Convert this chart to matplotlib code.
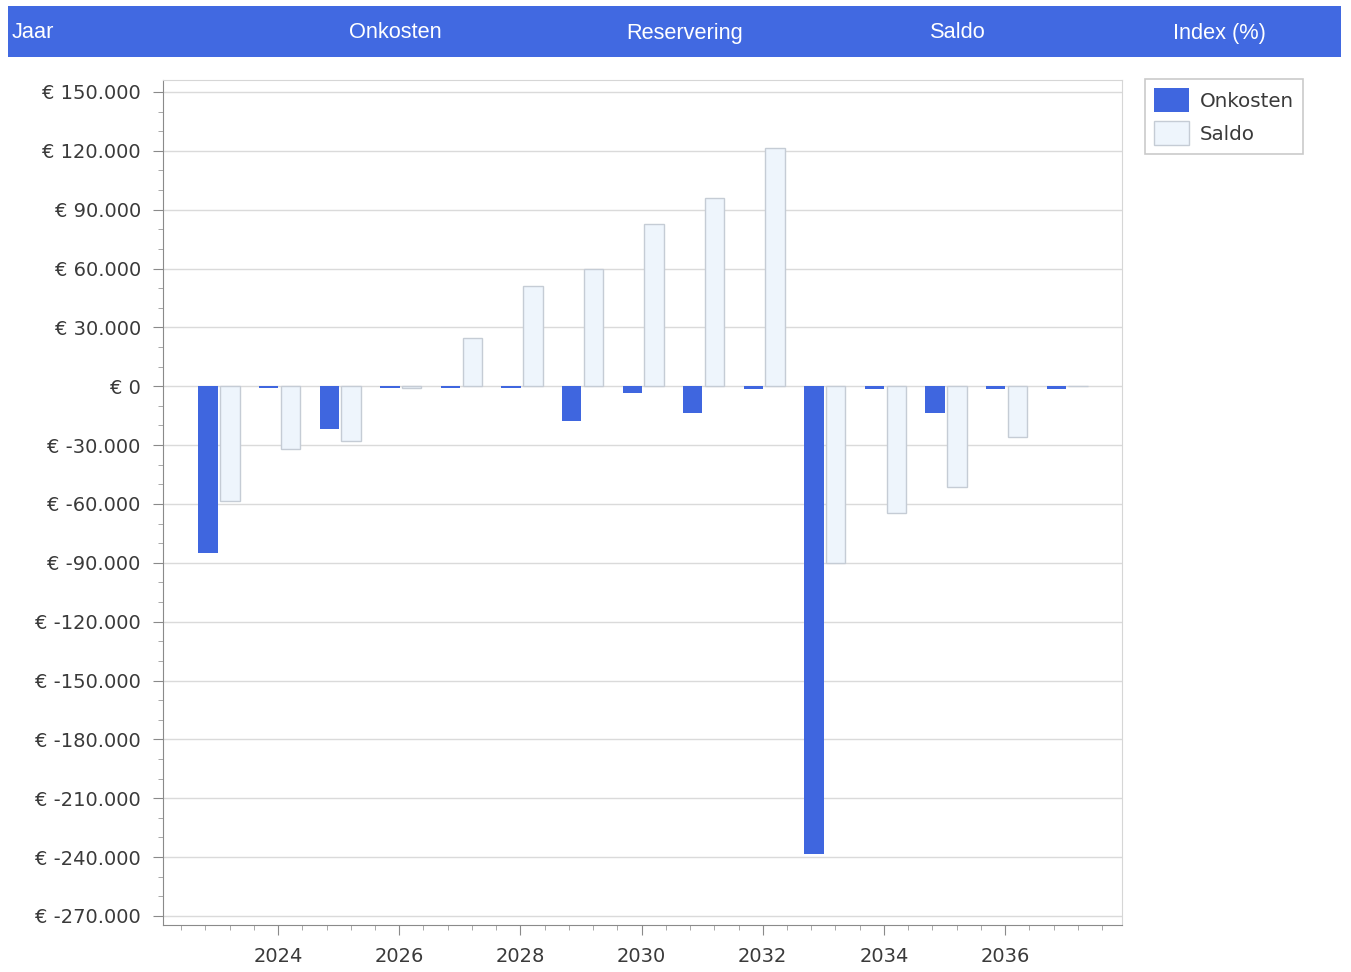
import matplotlib
matplotlib.use("Agg")
import matplotlib.pyplot as plt
from matplotlib.patches import Rectangle
from matplotlib.ticker import MultipleLocator, FuncFormatter
import numpy as np

# ------------------------------------------ Data ------------------------------------------ #

jaren = [2023, 2024, 2025, 2026, 2027, 2028, 2029, 2030,
         2031, 2032, 2033, 2034, 2035, 2036, 2037]
onkosten = [-85000, -800, -21900, -800, -800, -800, -17900, -3400,
            -13800, -1500, -238400, -1500, -13800, -1500, -1500]
saldo = [-58500, -32000, -27700, -700, 24600, 51100, 59800, 82700,
         96000, 121500, -90100, -64600, -51300, -25800, 0]
kolommen = ["Jaar", "Onkosten", "Reservering", "Saldo", "Index (%)"]

blauw = "#3F66DF"
licht = "#EEF5FC"


def euro(v, pos=None):
    # Nederlandse notatie: punt als duizendtal-scheiding
    s = "{:,.0f}".format(v).replace(",", ".")
    return "€ " + s


fig = plt.figure(figsize=(13.51, 9.72), dpi=100)

# ------------------------------------------ Header ------------------------------------------ #

fig.add_artist(Rectangle((8 / 1351, 1 - 57 / 972), 1333 / 1351, 51 / 972,
                         transform=fig.transFigure, facecolor="#4169E1",
                         edgecolor="none"))
kop_x = [12, 395, 685, 958, 1219]
for i, naam in enumerate(kolommen):
    fig.text(kop_x[i] / 1351, 1 - 33 / 972, naam, color="white",
             fontsize=15.7, family="Liberation Sans", va="center",
             ha="left" if i == 0 else "center")

# ------------------------------------------ Chart ------------------------------------------ #

ax = fig.add_axes([163 / 1351, 1 - 925 / 972, 959 / 1351, 845 / 972])
x = np.array(jaren, dtype=float)
b1 = ax.bar(x - 0.155, onkosten, width=0.32, color=blauw, edgecolor="none",
            label="Onkosten", zorder=3)
b2 = ax.bar(x + 0.205, saldo, width=0.32, color=licht, edgecolor="#C5CCD5",
            linewidth=1, label="Saldo", zorder=3)

ax.set_xlim(2022.10, 2037.93)
ax.set_ylim(-274600, 156100)
ax.yaxis.set_major_locator(MultipleLocator(30000))
ax.yaxis.set_minor_locator(MultipleLocator(10000))
ax.yaxis.set_major_formatter(FuncFormatter(euro))
ax.xaxis.set_major_locator(MultipleLocator(2))
ax.xaxis.set_minor_locator(MultipleLocator(0.4))
ax.xaxis.set_major_formatter(FuncFormatter(lambda v, p: "%d" % v))

ax.grid(axis="y", which="major", color="#DADADA", linewidth=1, zorder=0)
ax.tick_params(axis="both", which="major", length=7, color="#8A8A8A",
               labelsize=14, labelcolor="#3A3A3A")
ax.tick_params(axis="y", which="major", pad=9)
ax.tick_params(axis="x", which="major", pad=8.5)
ax.tick_params(axis="both", which="minor", length=3.5, color="#9A9A9A")
for lbl in ax.get_xticklabels() + ax.get_yticklabels():
    lbl.set_family("DejaVu Sans")

ax.spines["left"].set_color("#8A8A8A")
ax.spines["bottom"].set_color("#8A8A8A")
ax.spines["top"].set_color("#D6D6D6")
ax.spines["right"].set_color("#D6D6D6")

leg = fig.legend(handles=[b1, b2], loc="upper left",
                 bbox_to_anchor=(1145 / 1351, 1 - 79 / 972),
                 borderaxespad=0, frameon=True, fancybox=False, fontsize=14.3,
                 handlelength=1.75, handleheight=1.5, borderpad=0.45,
                 labelspacing=0.45, handletextpad=0.55)
leg.get_frame().set_edgecolor("#BDBDBD")
leg.get_frame().set_linewidth(1.2)
for t in leg.get_texts():
    t.set_color("#3A3A3A")

fig.savefig("out.png", dpi=100)
